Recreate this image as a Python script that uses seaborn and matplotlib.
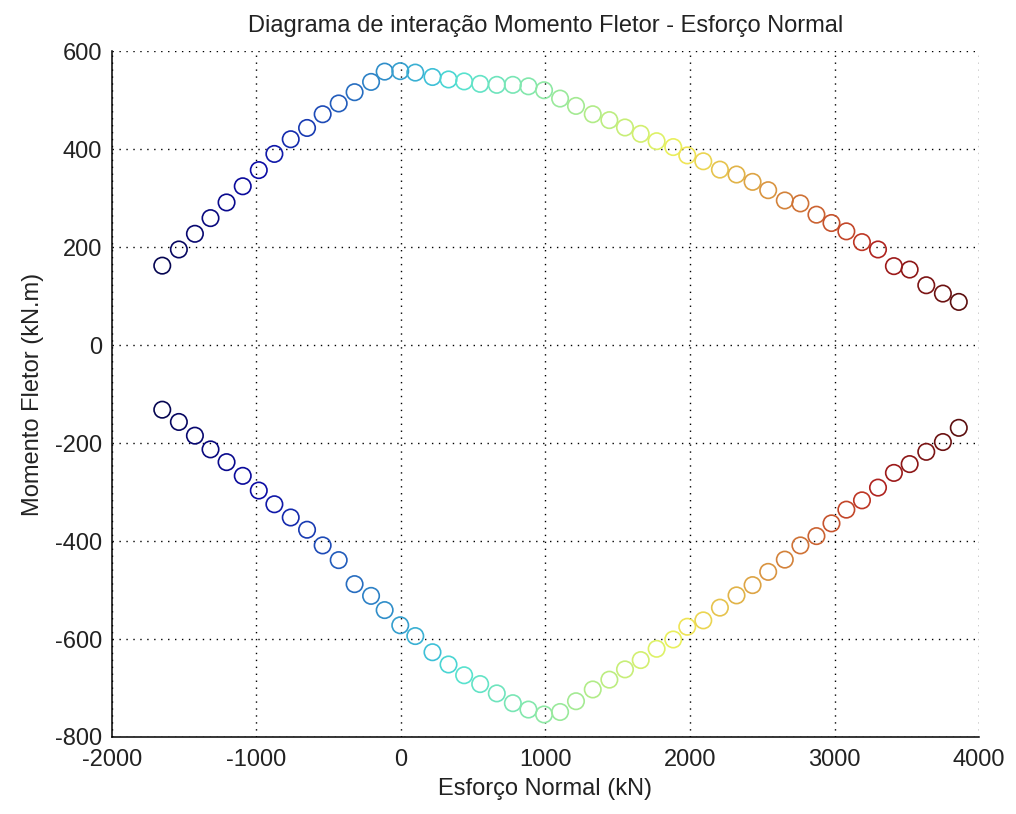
import numpy as np
import pandas as pd
import matplotlib
matplotlib.use('Agg')
import matplotlib.pyplot as plt
from matplotlib.colors import ListedColormap
import seaborn as sns

# esforco normal (kN), same abscissas for both branches
normal = [-1652, -1537, -1426, -1318, -1207, -1095, -984, -876, -763, -650,
          -542, -431, -321, -207, -113, -5, 99, 218, 329, 437,
          548, 663, 774, 882, 990, 1101, 1211, 1327, 1442, 1550,
          1659, 1769, 1884, 1981, 2092, 2207, 2322, 2433, 2541, 2656,
          2764, 2875, 2979, 3082, 3190, 3301, 3411, 3520, 3635, 3750,
          3860]

# momento fletor (kN.m), positive branch
momento_pos = [162, 195, 227, 259, 291, 324, 357, 390, 420, 443,
               471, 493, 516, 537, 558, 559, 556, 547, 542, 538,
               533, 531, 531, 528, 520, 503, 488, 471, 459, 444,
               431, 416, 404, 387, 375, 358, 348, 333, 316, 295,
               289, 266, 249, 232, 210, 195, 161, 154, 122, 105,
               88]

# momento fletor (kN.m), negative branch
momento_neg = [-132, -157, -185, -213, -239, -267, -297, -325, -352, -377,
               -409, -439, -488, -512, -541, -572, -594, -627, -652, -674,
               -692, -711, -731, -744, -754, -749, -727, -703, -683, -662,
               -643, -620, -601, -575, -562, -536, -511, -490, -463, -438,
               -409, -390, -364, -336, -317, -291, -261, -243, -218, -198,
               -169]

x_ticks = [-2000, -1000, 0, 1000, 2000, 3000, 4000]
y_ticks = [-800, -600, -400, -200, 0, 200, 400, 600]


def build_frame():
    df_pos = pd.DataFrame({'N': normal, 'M': momento_pos, 'ramo': 'pos'})
    df_neg = pd.DataFrame({'N': normal, 'M': momento_neg, 'ramo': 'neg'})
    return pd.concat([df_pos, df_neg], ignore_index=True)


def muted_jet(amount=0.6):
    # jet, with chroma pulled toward luminance (the jpeg look of the original)
    rgb = matplotlib.colormaps['jet'](np.linspace(0, 1, 256))[:, :3]
    lum = rgb @ np.array([0.299, 0.587, 0.114])
    rgb = lum[:, None] + amount * (rgb - lum[:, None])
    return ListedColormap(np.clip(rgb, 0, 1))


def main():
    df = build_frame()

    sns.set_style('white')
    plt.rcParams['font.family'] = ['Liberation Sans', 'DejaVu Sans']
    plt.rcParams['axes.unicode_minus'] = False

    fig = plt.figure(figsize=(10.16, 8.14), dpi=100)
    ax = fig.add_axes([0.1102, 0.0946, 0.8534, 0.8427])

    sns.scatterplot(data=df, x='N', y='M', hue='N', palette=muted_jet(),
                    hue_norm=(min(normal), max(normal)), marker='o',
                    s=140, legend=False, ax=ax)

    # open circles, like matlab
    for coll in ax.collections:
        fc = coll.get_facecolors()
        coll.set_edgecolors(fc)
        coll.set_facecolors('none')
        coll.set_linewidths(1.2)

    ax.set_xlim(-2000, 4000)
    ax.set_ylim(-800, 600)
    ax.set_xticks(x_ticks)
    ax.set_yticks(y_ticks)
    ax.grid(True, color='black', linestyle=(0, (1, 4)), linewidth=1.0)

    for side in ['top', 'right']:
        ax.spines[side].set_visible(False)
    for side in ['left', 'bottom']:
        ax.spines[side].set_color('black')
        ax.spines[side].set_linewidth(1.1)

    ax.tick_params(direction='in', length=6, width=1.1, colors='#222222',
                   labelsize=17)
    ax.tick_params(axis='x', pad=9)
    ax.tick_params(axis='y', pad=7)

    ax.set_title('Diagrama de interação Momento Fletor - Esforço Normal',
                 fontsize=17, pad=14, color='#222222')
    ax.set_xlabel('Esforço Normal (kN)', fontsize=17, labelpad=5,
                  color='#222222')
    ax.set_ylabel('Momento Fletor (kN.m)', fontsize=17, labelpad=8,
                  color='#222222')

    fig.savefig('out.png', dpi=100)
    plt.close(fig)


if __name__ == "__main__":
    main()
